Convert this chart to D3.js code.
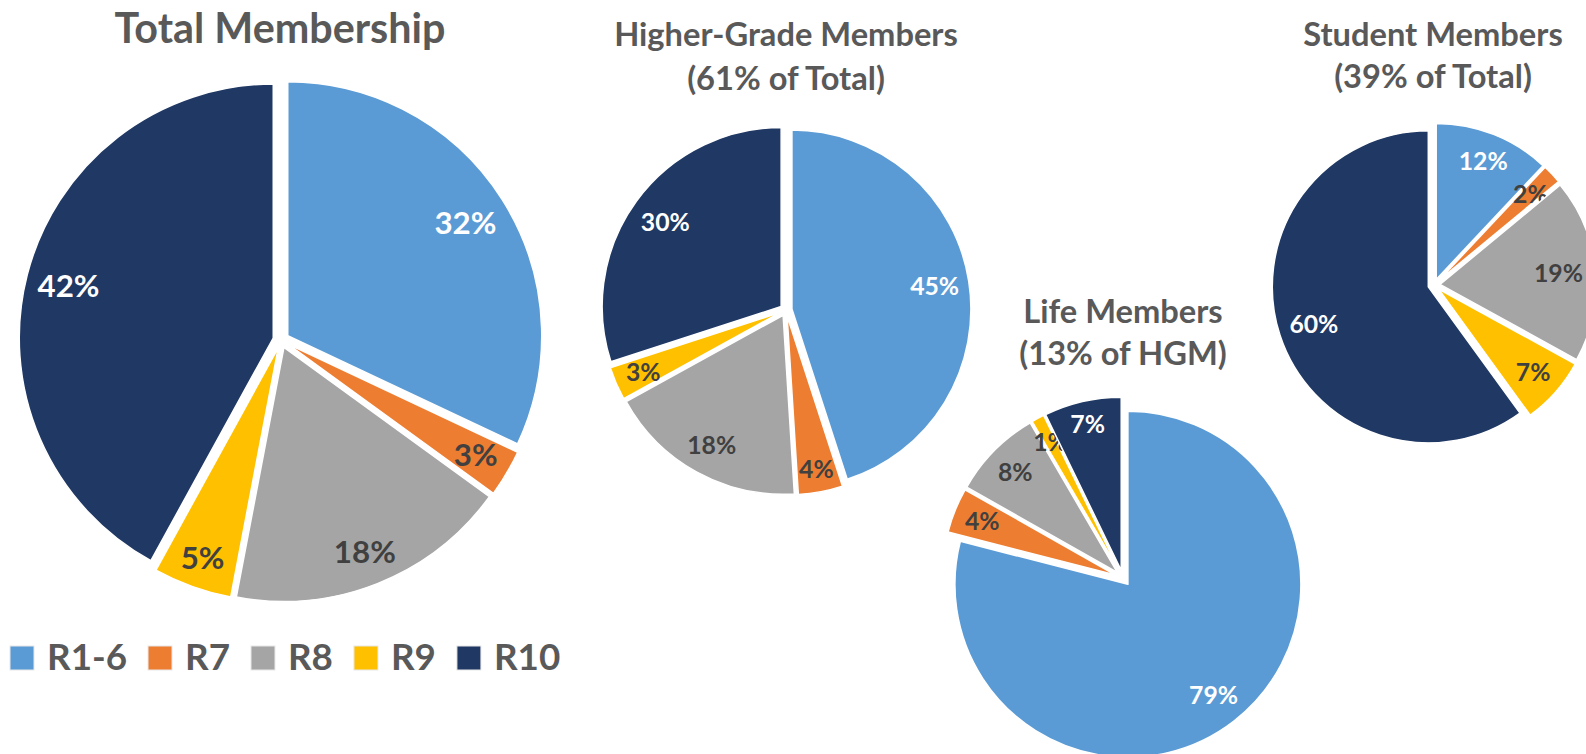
<!DOCTYPE html>
<html>
<head>
<meta charset="utf-8">
<script src="https://cdn.jsdelivr.net/npm/d3@7"></script>
<style>
  html, body { margin: 0; padding: 0; background: #ffffff; }
  svg { display: block; font-family: Lato, "Open Sans", sans-serif; }
</style>
</head>
<body>
<svg id="chart" width="1586" height="754"></svg>
<script>
// ---- data ----
const categories = ["R1-6", "R7", "R8", "R9", "R10"];
const totalValues = [32, 3, 18, 5, 42];
const hgmValues = [45, 4, 18, 3, 30];
const lifeValues = [79.0, 4.2, 8.4, 1.2, 7.2];
const studentValues = [12, 2, 19, 7, 60];
const totalTitle = ["Total Membership"];
const hgmTitle = ["Higher-Grade Members", "(61% of Total)"];
const lifeTitle = ["Life Members", "(13% of HGM)"];
const studentTitle = ["Student Members", "(39% of Total)"];

// ---- styles ----
const colors = ["#5B9BD5", "#ED7D31", "#A5A5A5", "#FFC000", "#203864"];
const labelColors = ["#ffffff", "#404040", "#404040", "#404040", "#ffffff"];
const titleColor = "#595959";
const W = 1586, H = 754;

const svg = d3.select("#chart");

// measuring helper
const meas = svg.append("text").attr("font-weight", 700).attr("font-size", 100).attr("x", -1000).attr("y", -1000);
function textW(str, size) {
  meas.attr("font-size", size).text(str);
  return meas.node().getComputedTextLength();
}
function fitSize(str, target) { return 100 * target / textW(str, 100); }

const color = d3.scaleOrdinal().domain(categories).range(colors);
const labelColor = d3.scaleOrdinal().domain(categories).range(labelColors);

const bigLabelSize = fitSize("32%", 62);
const smallLabelSize = (fitSize("45%", 50) + fitSize("79%", 49) + fitSize("12%", 48)) / 3;
const bigTitleSize = fitSize(totalTitle[0], 331);
const smallTitleSize = (fitSize(hgmTitle[0], 342) + fitSize(hgmTitle[1], 200) +
  fitSize(lifeTitle[0], 198) + fitSize(lifeTitle[1], 203) +
  fitSize(studentTitle[0], 263) + fitSize(studentTitle[1], 200)) / 6;

const charts = [
  { values: totalValues, title: totalTitle, cx: 281, cy: 340, r: 254, explode: 8,
    titleX: 280, titleY: [43], titleSize: bigTitleSize, labelSize: bigLabelSize },
  { values: hgmValues, title: hgmTitle, cx: 786, cy: 310, r: 179, explode: 6,
    titleX: 786, titleY: [46, 90], titleSize: smallTitleSize, labelSize: smallLabelSize },
  { values: lifeValues, title: lifeTitle, cx: 1123, cy: 578, r: 173, explode: 8,
    titleX: 1123, titleY: [323, 365], titleSize: smallTitleSize, labelSize: smallLabelSize },
  { values: studentValues, title: studentTitle, cx: 1434, cy: 285, r: 156, explode: 6,
    titleX: 1433, titleY: [46, 88], titleSize: smallTitleSize, labelSize: smallLabelSize }
];

const pie = d3.pie().sort(null).value(d => d.value);

charts.forEach(ch => {
  const data = categories.map((c, i) => ({ cat: c, value: ch.values[i] }));
  const sum = d3.sum(ch.values);
  const arcs = pie(data);
  const arc = d3.arc().innerRadius(0).outerRadius(ch.r);
  const g = svg.append("g").attr("transform", `translate(${ch.cx},${ch.cy})`);

  const slices = g.selectAll("g.slice").data(arcs).join("g").attr("class", "slice")
    .attr("transform", d => {
      const a = (d.startAngle + d.endAngle) / 2;
      return `translate(${Math.sin(a) * ch.explode},${-Math.cos(a) * ch.explode})`;
    });
  slices.append("path")
    .attr("d", arc)
    .attr("fill", d => color(d.data.cat))
    .attr("stroke", "#ffffff")
    .attr("stroke-width", 1.5)
    .attr("stroke-linejoin", "round");

  // labels (inside end)
  const fs = ch.labelSize;
  slices.append("text")
    .text(d => Math.round(d.data.value / sum * 100) + "%")
    .attr("font-weight", 700)
    .attr("font-size", fs)
    .attr("fill", d => labelColor(d.data.cat))
    .attr("text-anchor", "middle")
    .each(function (d) {
      const a = (d.startAngle + d.endAngle) / 2;
      const ux = Math.sin(a), uy = -Math.cos(a);
      const tw = this.getComputedTextLength();
      const bw = tw + 8, bh = fs * 1.2;
      const dist = ch.r - 4 - (bw / 2) * Math.abs(ux) - (bh / 2) * Math.abs(uy);
      let x = ux * dist, y = uy * dist;
      // keep inside the picture
      const absRight = ch.cx + ux * ch.explode + x + tw / 2;
      if (absRight > W - 3) x -= absRight - (W - 3);
      d3.select(this).attr("x", x).attr("y", y + fs * 0.36);
    });

  // title
  const t = svg.append("g");
  ch.title.forEach((line, i) => {
    t.append("text")
      .attr("x", ch.titleX)
      .attr("y", ch.titleY[i])
      .attr("text-anchor", "middle")
      .attr("font-weight", 700)
      .attr("font-size", ch.titleSize)
      .attr("fill", titleColor)
      .text(line);
  });
});

// ---- legend ----
const legendSize = (fitSize("R1-6", 81) + fitSize("R10", 67) + fitSize("R7", 44)) / 3;
const legend = svg.append("g");
let lx = 10;
categories.forEach(c => {
  legend.append("rect")
    .attr("x", lx).attr("y", 646).attr("width", 24).attr("height", 24)
    .attr("fill", color(c)).attr("stroke", "#e8e8e8").attr("stroke-width", 1);
  const txt = legend.append("text")
    .attr("x", lx + 37).attr("y", 670)
    .attr("font-weight", 700).attr("font-size", legendSize)
    .attr("fill", titleColor).text(c);
  lx = lx + 37 + txt.node().getComputedTextLength() + 21;
});
meas.remove();
</script>
</body>
</html>
